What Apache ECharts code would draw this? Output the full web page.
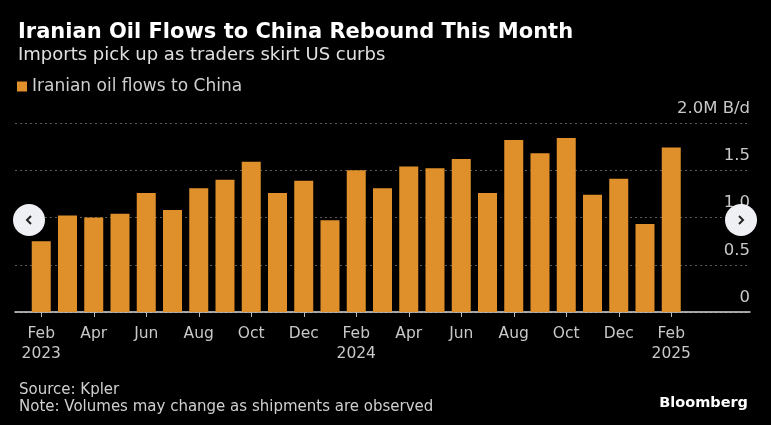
<!DOCTYPE html>
<html>
<head>
<meta charset="utf-8">
<script src="https://cdn.jsdelivr.net/npm/echarts@6/dist/echarts.min.js"></script>
<style>
  html, body { margin: 0; padding: 0; background: #000; }
  #chart { width: 771px; height: 425px; }
</style>
</head>
<body>
<div id="chart"></div>
<script>
// monthly Iranian oil flows to China, million barrels per day
var months = ['Feb 2023','Mar 2023','Apr 2023','May 2023','Jun 2023','Jul 2023','Aug 2023','Sep 2023','Oct 2023','Nov 2023','Dec 2023',
              'Jan 2024','Feb 2024','Mar 2024','Apr 2024','May 2024','Jun 2024','Jul 2024','Aug 2024','Sep 2024','Oct 2024','Nov 2024','Dec 2024',
              'Jan 2025','Feb 2025'];
var flows = [0.75, 1.02, 1.00, 1.04, 1.26, 1.08, 1.31, 1.40, 1.59, 1.26, 1.39,
             0.97, 1.50, 1.31, 1.54, 1.52, 1.62, 1.26, 1.82, 1.68, 1.84, 1.24, 1.41,
             0.93, 1.74];
var labelIdx = [0, 2, 4, 6, 8, 10, 12, 14, 16, 18, 20, 22, 24];
var yTicks = [0, 0.5, 1.0, 1.5, 2.0];

var font = 'DejaVu Sans';
var chart = echarts.init(document.getElementById('chart'));

var barData = [];
for (var i = 0; i < flows.length; i++) {
    barData.push([i, flows[i]]);
}

function monthLabel(v) {
    var parts = months[v].split(' ');
    // year only under Feb
    if (parts[0] == 'Feb') return parts[0] + '\n' + parts[1];
    return parts[0];
}

function chevron(cx, cy, dir) {
    return {
        type: 'polyline',
        shape: { points: [[cx + 2 * dir, cy - 4], [cx - 2 * dir, cy], [cx + 2 * dir, cy + 4]] },
        style: { stroke: '#222', lineWidth: 2, fill: null },
        z: 101
    };
}

chart.setOption({
    backgroundColor: '#000',
    animation: false,
    textStyle: { fontFamily: font },
    title: [
        {
            text: 'Iranian Oil Flows to China Rebound This Month',
            left: 13, top: 17,
            textStyle: { color: '#fff', fontSize: 21, fontWeight: 'bold', fontFamily: font }
        },
        {
            text: 'Imports pick up as traders skirt US curbs',
            left: 13, top: 41,
            textStyle: { color: '#e0e0e0', fontSize: 18, fontWeight: 'normal', fontFamily: font }
        },
        {
            text: 'Source: Kpler\nNote: Volumes may change as shipments are observed',
            left: 14, top: 377,
            textStyle: { color: '#cfcfcf', fontSize: 15, lineHeight: 17, fontWeight: 'normal', fontFamily: font }
        },
        {
            text: 'Bloomberg',
            right: 18, top: 391,
            textStyle: { color: '#fff', fontSize: 14.5, fontWeight: 'bold', fontFamily: font }
        }
    ],
    legend: {
        left: 12, top: 73,
        icon: 'rect', itemWidth: 10, itemHeight: 10, itemGap: 9,
        textStyle: { color: '#cfcfcf', fontSize: 17, fontFamily: font },
        data: ['Iranian oil flows to China']
    },
    grid: { left: 15, right: 21, top: 123, bottom: 113 },
    xAxis: {
        type: 'value',
        min: -1, max: 27,
        splitLine: { show: false },
        axisLine: { show: true, onZero: false, lineStyle: { color: '#d8d8d8', width: 1.5 } },
        axisTick: { show: true, customValues: labelIdx, length: 5, lineStyle: { color: '#bbb' } },
        axisLabel: {
            customValues: labelIdx,
            color: '#c8c8c8', fontSize: 15.5, lineHeight: 20, margin: 12,
            formatter: function (v) { return monthLabel(v); }
        }
    },
    yAxis: {
        type: 'value',
        position: 'right',
        min: 0, max: 2, interval: 0.5,
        axisLine: { show: false },
        axisTick: { show: false },
        splitLine: { show: true, lineStyle: { color: '#5a5a5a', type: [2, 3], width: 1 } },
        axisLabel: {
            inside: true, margin: 0,
            customValues: yTicks,
            color: '#c8c8c8', fontSize: 16.5,
            verticalAlign: 'bottom', padding: [0, 0, 6, 0],
            formatter: function (v) {
                if (v == 2) return '2.0M B/d';
                if (v == 0) return '0';
                return v.toFixed(1);
            }
        }
    },
    series: [
        {
            name: 'Iranian oil flows to China',
            type: 'bar',
            barWidth: 19,
            itemStyle: { color: '#e0902a' },
            data: barData
        }
    ],
    graphic: [
        { type: 'circle', shape: { cx: 29, cy: 220, r: 16 }, style: { fill: '#eef0f3' }, z: 100 },
        chevron(29, 220, 1),
        { type: 'circle', shape: { cx: 741, cy: 220, r: 16 }, style: { fill: '#eef0f3' }, z: 100 },
        chevron(741, 220, -1)
    ]
});
</script>
</body>
</html>
